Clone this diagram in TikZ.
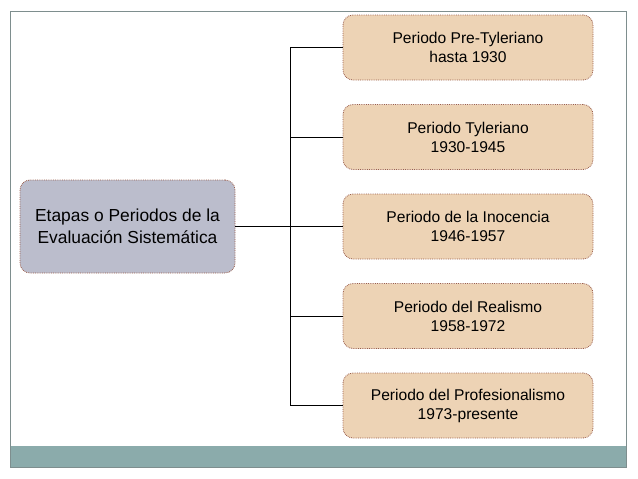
\documentclass[tikz,border=0pt]{standalone}
\usepackage{fontspec}
\setmainfont{Liberation Sans}
\usepackage{tikz}
\usetikzlibrary{positioning,calc}

\definecolor{marco}{HTML}{7E8E8E}
\definecolor{banda}{HTML}{8BABAB}
\definecolor{gris}{HTML}{BBBDCC}
\definecolor{crema}{HTML}{EDD3B5}
\definecolor{borde}{HTML}{9A5E4C}

\tikzset{
    etapa/.style={draw=borde, densely dotted, line width=0.8pt, rounded corners=10pt,
        fill=crema, align=center, minimum width=250pt, minimum height=65pt,
        font=\fontsize{15.6}{19}\selectfont},
    raiz/.style={etapa, fill=gris, minimum width=215pt, minimum height=93pt,
        font=\fontsize{17.4}{22}\selectfont}
}

\begin{document}
\begin{tikzpicture}[x=1pt, y=-1pt]
                        \useasboundingbox (0, 0) rectangle (638, 479);
                        % marco de la diapositiva
                        \fill[banda] (10, 446) rectangle (626, 467);
                        \draw[marco, line width=0.8pt] (10, 11) rectangle (626, 467);

                        \node[raiz] (etapas) at (127.5, 226.5) {Etapas o Periodos de la\\Evaluación Sistemática};
                        \node[etapa] (pre) at (468, 47.5) {Periodo Pre-Tyleriano\\hasta 1930};
                        \node[etapa] (tyler) at (468, 137) {Periodo Tyleriano\\1930-1945};
                        \node[etapa] (inocencia) at (468, 226.5) {Periodo de la Inocencia\\1946-1957};
                        \node[etapa] (realismo) at (468, 316) {Periodo del Realismo\\1958-1972};
                        \node[etapa] (profesional) at (468, 405.5) {Periodo del Profesionalismo\\1973-presente};

                        \coordinate (tronco) at (290, 226.5);
                        \draw[line width=0.7pt]
                        (etapas.east) -- (inocencia.west)
                        (pre.west) -| (tronco) |- (profesional.west)
                        (tyler.west) -| (tronco)
                        (realismo.west) -| (tronco);
                    \end{tikzpicture}
\end{document}
